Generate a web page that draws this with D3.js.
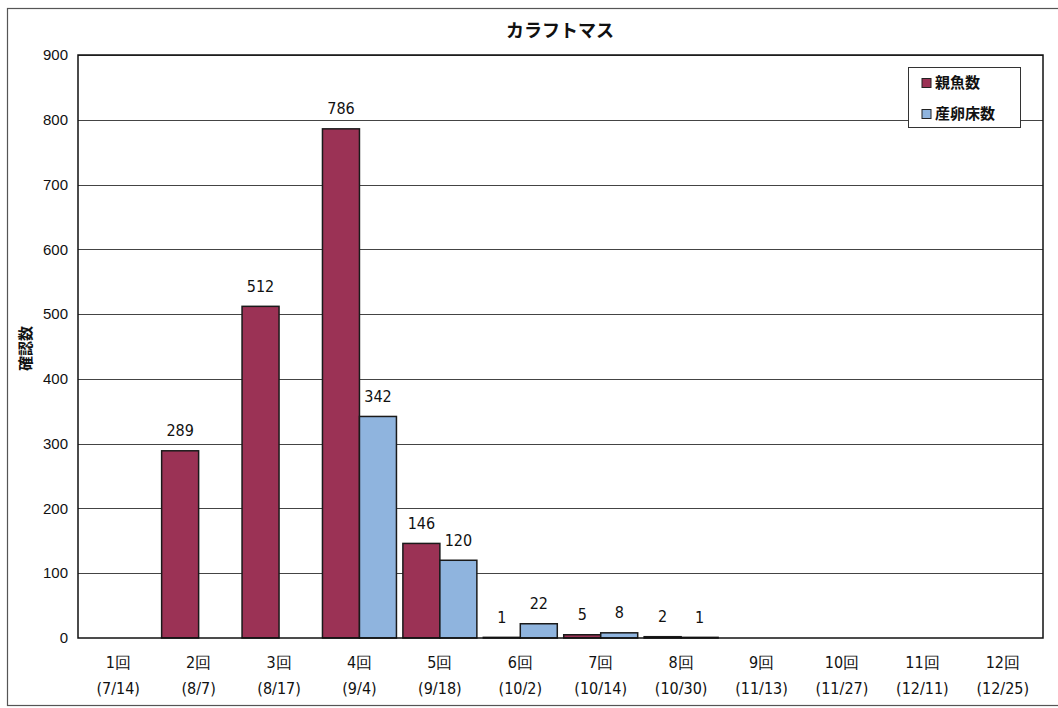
<!DOCTYPE html>
<html>
<head>
<meta charset="utf-8">
<script src="https://cdn.jsdelivr.net/npm/d3@7"></script>
<style>
  body { margin: 0; background: #fff; }
  svg { display: block; }
  .num { font-family: "DejaVu Sans Condensed", "Liberation Sans Narrow", "Liberation Sans", sans-serif; }
  .jp { font-family: "Noto Sans CJK JP", sans-serif; }
</style>
</head>
<body>
<div id="chart"></div>
<script>
// データ
const categories = ["1回", "2回", "3回", "4回", "5回", "6回", "7回", "8回", "9回", "10回", "11回", "12回"];
const dates = ["(7/14)", "(8/7)", "(8/17)", "(9/4)", "(9/18)", "(10/2)", "(10/14)", "(10/30)", "(11/13)", "(11/27)", "(12/11)", "(12/25)"];
const seriesNames = ["親魚数", "産卵床数"];
const oyaValues = [null, 289, 512, 786, 146, 1, 5, 2, null, null, null, null];
const sanranValues = [null, null, null, 342, 120, 22, 8, 1, null, null, null, null];
const yTicks = [0, 100, 200, 300, 400, 500, 600, 700, 800, 900];

const colors = ["#9b3255", "#8fb4de"];

const width = 1058;
const height = 708;
const margin = { top: 55, right: 15, bottom: 70, left: 78 };

const svg = d3.select("#chart")
    .append("svg")
    .attr("width", width)
    .attr("height", height);

// 外枠
svg.append("rect")
    .attr("x", 7.5)
    .attr("y", 8.5)
    .attr("width", 1070)
    .attr("height", 697)
    .attr("fill", "none")
    .attr("stroke", "#555")
    .attr("stroke-width", 1.2);

const x = d3.scaleBand()
    .domain(categories)
    .range([margin.left, width - margin.right])
    .paddingInner(0.08)
    .paddingOuter(0.04);

const xSub = d3.scaleBand()
    .domain(seriesNames)
    .range([0, x.bandwidth()]);

const y = d3.scaleLinear()
    .domain([0, 900])
    .range([height - margin.bottom, margin.top]);

// グリッド線
svg.append("g")
    .selectAll("line")
    .data(yTicks.filter(d => d > 0))
    .join("line")
    .attr("x1", margin.left)
    .attr("x2", width - margin.right)
    .attr("y1", d => Math.round(y(d)) + 0.5)
    .attr("y2", d => Math.round(y(d)) + 0.5)
    .attr("stroke", "#444")
    .attr("stroke-width", 1);

// Y軸ラベル
svg.append("g")
    .selectAll("text")
    .data(yTicks)
    .join("text")
    .attr("x", margin.left - 10)
    .attr("y", d => y(d))
    .attr("dy", "0.35em")
    .attr("text-anchor", "end")
    .attr("font-family", "'Liberation Sans', Arial, sans-serif")
    .attr("font-size", 15)
    .attr("fill", "#111")
    .text(d => d);

// 系列ごとの棒
const series = [oyaValues, sanranValues];
series.forEach((values, si) => {
    const g = svg.append("g");
    const data = categories.map((c, i) => ({ cat: c, value: values[i] })).filter(d => d.value !== null);

    g.selectAll("rect")
        .data(data)
        .join("rect")
        .attr("x", d => x(d.cat) + xSub(seriesNames[si]))
        .attr("y", d => y(d.value))
        .attr("width", xSub.bandwidth())
        .attr("height", d => y(0) - y(d.value))
        .attr("fill", colors[si])
        .attr("stroke", "#1a1a1a")
        .attr("stroke-width", 1.5);

    g.selectAll("text")
        .data(data)
        .join("text")
        .attr("class", "num")
        .attr("x", d => x(d.cat) + xSub(seriesNames[si]) + xSub.bandwidth() / 2)
        .attr("y", d => y(d.value) - 20)
        .attr("dy", "0.35em")
        .attr("text-anchor", "middle")
        .attr("font-size", 16)
        .attr("fill", "#111")
        .text(d => d.value);
});

// プロット枠
svg.append("rect")
    .attr("x", margin.left)
    .attr("y", margin.top)
    .attr("width", width - margin.right - margin.left)
    .attr("height", y(0) - margin.top)
    .attr("fill", "none")
    .attr("stroke", "#111")
    .attr("stroke-width", 1.5);

// X軸ラベル
const xLabels = svg.append("g")
    .selectAll("g")
    .data(categories)
    .join("g")
    .attr("transform", d => `translate(${x(d) + x.bandwidth() / 2},0)`);

xLabels.append("text")
    .attr("class", "num")
    .attr("y", y(0) + 24)
    .attr("dy", "0.35em")
    .attr("text-anchor", "middle")
    .attr("font-size", 16)
    .attr("fill", "#111")
    .text(d => d);

xLabels.append("text")
    .attr("class", "num")
    .attr("y", y(0) + 50)
    .attr("dy", "0.35em")
    .attr("text-anchor", "middle")
    .attr("font-size", 16)
    .attr("fill", "#111")
    .text((d, i) => dates[i]);

// タイトル
svg.append("text")
    .attr("class", "jp")
    .attr("x", 560)
    .attr("y", 31)
    .attr("dy", "0.35em")
    .attr("text-anchor", "middle")
    .attr("font-size", 18)
    .attr("font-weight", "bold")
    .attr("fill", "#111")
    .text("カラフトマス");

// Y軸タイトル
svg.append("text")
    .attr("class", "jp")
    .attr("transform", `translate(26,${(margin.top + y(0)) / 2 + 2}) rotate(-90)`)
    .attr("dy", "0.35em")
    .attr("text-anchor", "middle")
    .attr("font-size", 15)
    .attr("font-weight", "bold")
    .attr("fill", "#111")
    .text("確認数");

// 凡例
const legend = svg.append("g").attr("transform", "translate(908,67)");
legend.append("rect")
    .attr("x", 0.5)
    .attr("y", 0.5)
    .attr("width", 112)
    .attr("height", 60)
    .attr("fill", "#fff")
    .attr("stroke", "#333")
    .attr("stroke-width", 1);

seriesNames.forEach((name, i) => {
    const item = legend.append("g").attr("transform", `translate(14,${16 + i * 31})`);
    item.append("rect")
        .attr("x", 0)
        .attr("y", -4.5)
        .attr("width", 9)
        .attr("height", 9)
        .attr("fill", colors[i])
        .attr("stroke", "#222")
        .attr("stroke-width", 1);
    item.append("text")
        .attr("class", "jp")
        .attr("x", 13)
        .attr("dy", "0.35em")
        .attr("font-size", 15)
        .attr("font-weight", "bold")
        .attr("fill", "#111")
        .text(name);
});
</script>
</body>
</html>
